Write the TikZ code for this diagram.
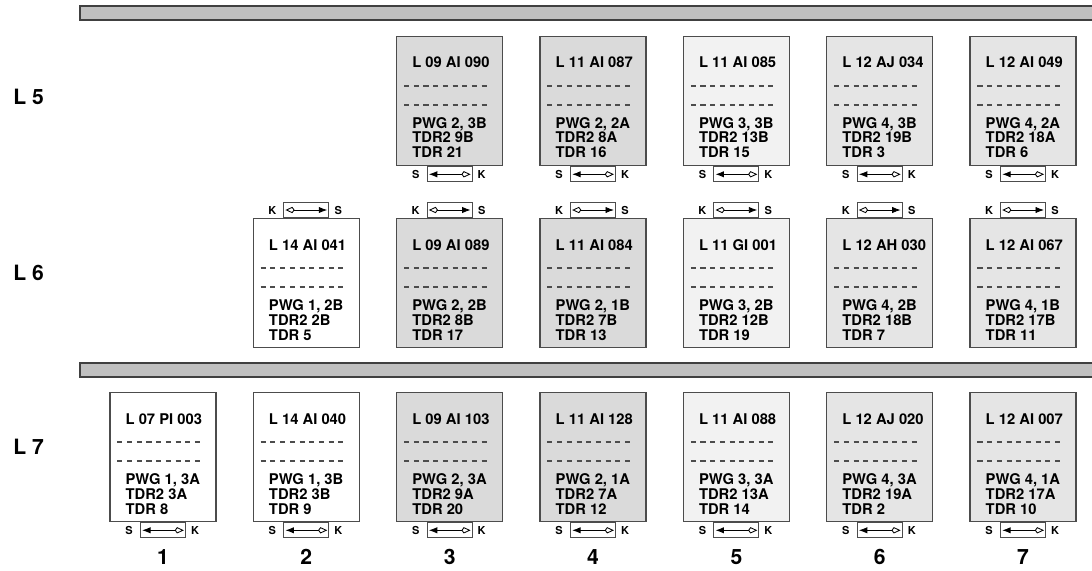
\documentclass[tikz,border=0pt]{standalone}
\usepackage{fontspec}
\setmainfont{TeX Gyre Heros}
\usetikzlibrary{arrows.meta, calc}

\definecolor{grauA}{HTML}{DADADA}
\definecolor{grauB}{HTML}{F2F2F2}
\definecolor{grauC}{HTML}{E5E5E5}
\definecolor{balken}{HTML}{C0C0C0}

\tikzset{
  messbox/.style={draw=black!70, line width=0.9pt, minimum width=2.65cm, minimum height=3.225cm, inner sep=0pt},
  boxtext/.style={font=\fontsize{10.5}{12}\selectfont\bfseries, inner sep=0pt, anchor=base west},
  trenn/.style={black!70, line width=0.9pt, dash pattern=on 3.6pt off 3.3pt},
  skbox/.style={draw=black!70, line width=0.7pt, minimum width=1.125cm, minimum height=0.375cm, inner sep=0pt},
  sklabel/.style={font=\fontsize{7.8}{9}\selectfont\bfseries, inner sep=0pt},
  skpfeil/.style={line width=0.6pt, {Latex[length=6pt, width=4.5pt]}-{Kite[open, length=6.5pt, width=4.5pt]}},
  reihe/.style={font=\fontsize{15}{18}\selectfont\bfseries, inner sep=0pt, anchor=west},
  spalte/.style={font=\fontsize{15}{18}\selectfont\bfseries, inner sep=0pt},
}

% Messstelle: Name, Spalte, Oberkante, Fuellung, Titel, drei Zeilen
\newcommand{\messbox}[8]{%
  \node[messbox, fill=#4, anchor=north] (#1) at ({163+143.35*(#2-1)}, #3) {};
  \node[boxtext] (#1-t) at ($(#1.north west)+(16,32)$) {#5};
  \draw[trenn] ($(#1.north west)+(8,50)$) -- ++(87,0);
  \draw[trenn] ($(#1.north west)+(8,69)$) -- ++(87,0);
  \node[boxtext] (#1-a) at ($(#1.north west)+(16,92.5)$) {#6};
  \node[boxtext] (#1-b) at ($(#1.north west)+(16,107)$) {#7};
  \node[boxtext] (#1-c) at ($(#1.north west)+(16,122)$) {#8};
}
% S-K Stecker unter der Box
\newcommand{\skunten}[1]{%
  \node[skbox, anchor=north] (#1-sk) at (#1.south) {};
  \node[sklabel] (#1-s) at ($(#1-sk.west)+(-11,0)$) {S};
  \node[sklabel] (#1-k) at ($(#1-sk.east)+(9,0)$) {K};
  \draw[skpfeil] ([xshift=1.5pt]#1-sk.west) -- ([xshift=-1.5pt]#1-sk.east);
}
% K-S Stecker ueber der Box
\newcommand{\ksoben}[1]{%
  \node[skbox, anchor=south] (#1-sk) at (#1.north) {};
  \node[sklabel] (#1-k) at ($(#1-sk.west)+(-11,0)$) {K};
  \node[sklabel] (#1-s) at ($(#1-sk.east)+(9,0)$) {S};
  \draw[skpfeil] ([xshift=-1.5pt]#1-sk.east) -- ([xshift=1.5pt]#1-sk.west);
}

\begin{document}
\begin{tikzpicture}[x=0.025cm, y=-0.025cm]
  \useasboundingbox (0,0) rectangle (1092,571);

  % Traegerbalken
  \draw[fill=balken, draw=black!75, line width=0.8pt] (80,6) rectangle (1110,20);
  \draw[fill=balken, draw=black!75, line width=0.8pt] (80,363) rectangle (1110,377);

  % Reihen
  \node[reihe] (r5) at (13,97) {L 5};
  \node[reihe] (r6) at (13,273) {L 6};
  \node[reihe] (r7) at (13,447) {L 7};

  % Reihe L 5
  \messbox{a3}{3}{36}{grauA}{L 09 AI 090}{PWG 2, 3B}{TDR2 9B}{TDR 21}
  \messbox{a4}{4}{36}{grauA}{L 11 AI 087}{PWG 2, 2A}{TDR2 8A}{TDR 16}
  \messbox{a5}{5}{36}{grauB}{L 11 AI 085}{PWG 3, 3B}{TDR2 13B}{TDR 15}
  \messbox{a6}{6}{36}{grauC}{L 12 AJ 034}{PWG 4, 3B}{TDR2 19B}{TDR 3}
  \messbox{a7}{7}{36}{grauC}{L 12 AI 049}{PWG 4, 2A}{TDR2 18A}{TDR 6}
  \skunten{a3} \skunten{a4} \skunten{a5} \skunten{a6} \skunten{a7}

  % Reihe L 6
  \messbox{b2}{2}{218}{white}{L 14 AI 041}{PWG 1, 2B}{TDR2 2B}{TDR 5}
  \messbox{b3}{3}{218}{grauA}{L 09 AI 089}{PWG 2, 2B}{TDR2 8B}{TDR 17}
  \messbox{b4}{4}{218}{grauA}{L 11 AI 084}{PWG 2, 1B}{TDR2 7B}{TDR 13}
  \messbox{b5}{5}{218}{grauB}{L 11 GI 001}{PWG 3, 2B}{TDR2 12B}{TDR 19}
  \messbox{b6}{6}{218}{grauC}{L 12 AH 030}{PWG 4, 2B}{TDR2 18B}{TDR 7}
  \messbox{b7}{7}{218}{grauC}{L 12 AI 067}{PWG 4, 1B}{TDR2 17B}{TDR 11}
  \ksoben{b2} \ksoben{b3} \ksoben{b4} \ksoben{b5} \ksoben{b6} \ksoben{b7}

  % Reihe L 7
  \messbox{c1}{1}{392}{white}{L 07 PI 003}{PWG 1, 3A}{TDR2 3A}{TDR 8}
  \messbox{c2}{2}{392}{white}{L 14 AI 040}{PWG 1, 3B}{TDR2 3B}{TDR 9}
  \messbox{c3}{3}{392}{grauA}{L 09 AI 103}{PWG 2, 3A}{TDR2 9A}{TDR 20}
  \messbox{c4}{4}{392}{grauA}{L 11 AI 128}{PWG 2, 1A}{TDR2 7A}{TDR 12}
  \messbox{c5}{5}{392}{grauB}{L 11 AI 088}{PWG 3, 3A}{TDR2 13A}{TDR 14}
  \messbox{c6}{6}{392}{grauC}{L 12 AJ 020}{PWG 4, 3A}{TDR2 19A}{TDR 2}
  \messbox{c7}{7}{392}{grauC}{L 12 AI 007}{PWG 4, 1A}{TDR2 17A}{TDR 10}
  \skunten{c1} \skunten{c2} \skunten{c3} \skunten{c4} \skunten{c5} \skunten{c6} \skunten{c7}

  % Spaltennummern
  \foreach \i in {1,...,7}
    \node[spalte] (n\i) at ({163+143.35*(\i-1)}, 557) {\i};
\end{tikzpicture}
\end{document}
